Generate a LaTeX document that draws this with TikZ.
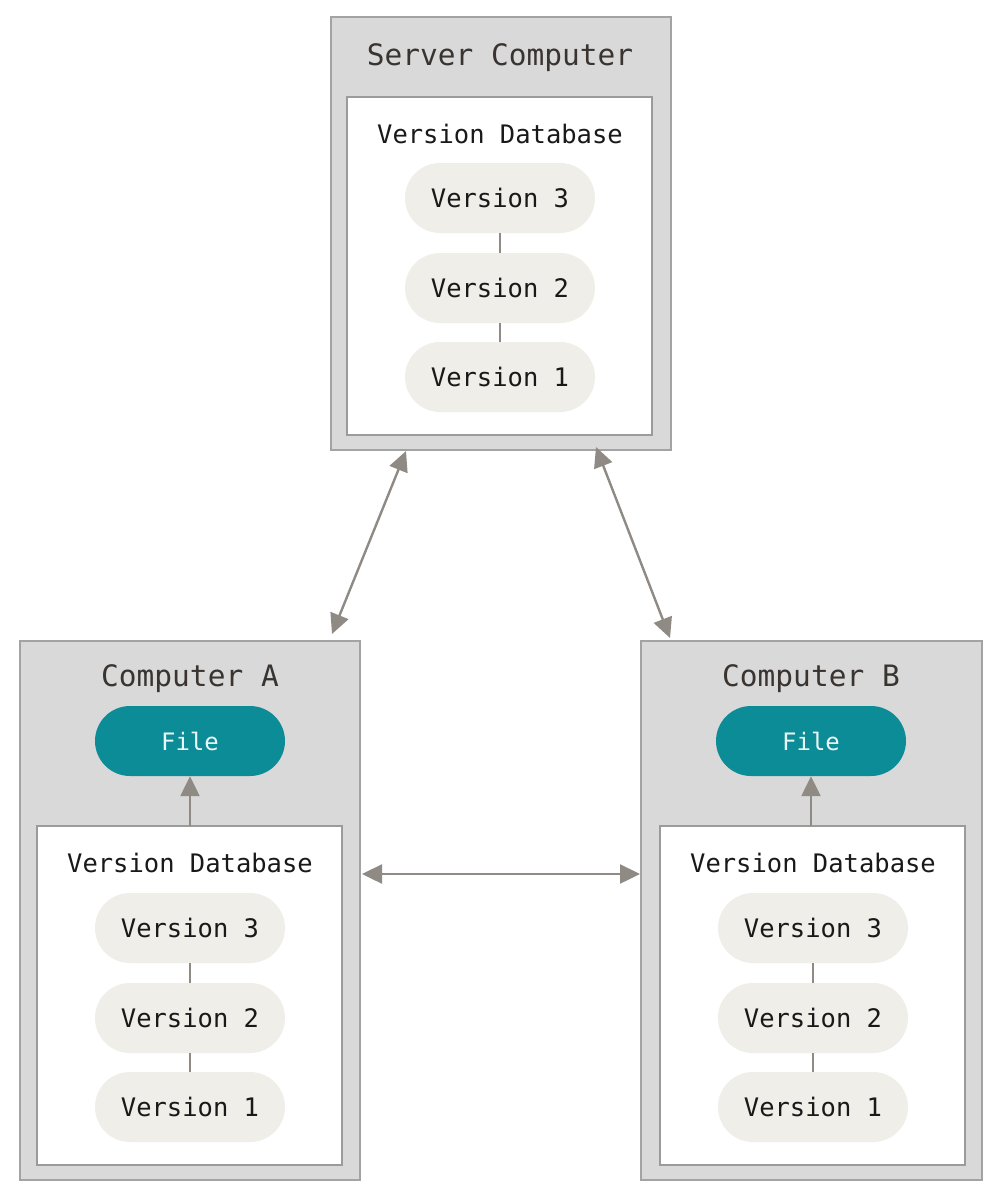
\documentclass[tikz,border=0pt]{standalone}
\usepackage{fontspec}
\setmonofont{DejaVu Sans Mono}
\usetikzlibrary{arrows.meta}
\definecolor{outerfill}{HTML}{D9D9D9}
\definecolor{outerdraw}{HTML}{A3A3A3}
\definecolor{innerdraw}{HTML}{9B9B9B}
\definecolor{pillfill}{HTML}{EFEEE9}
\definecolor{teal}{HTML}{0B8C96}
\definecolor{arrowc}{HTML}{8F8A84}
\definecolor{titlec}{HTML}{3A3431}
\tikzset{
  outerbox/.style={draw=outerdraw, fill=outerfill, line width=2pt},
  innerbox/.style={draw=innerdraw, fill=white, line width=2pt},
  pill/.style={fill=pillfill, minimum width=190pt, minimum height=70pt, rounded corners=35pt, font=\ttfamily\fontsize{25.5}{28}\selectfont, text=black!90, inner sep=0pt},
  filepill/.style={fill=teal, minimum width=190pt, minimum height=70pt, rounded corners=35pt, font=\ttfamily\fontsize{24}{26}\selectfont, text=white!92!teal, inner sep=0pt},
  titletext/.style={font=\ttfamily\fontsize{29.5}{32}\selectfont, text=titlec},
  dbtext/.style={font=\ttfamily\fontsize{25.5}{28}\selectfont, text=black!90},
  link/.style={draw=arrowc, line width=1.6pt},
  arr/.style={draw=arrowc, line width=2.4pt, {Triangle[length=20pt,width=19pt]}-{Triangle[length=20pt,width=19pt]}, fill=arrowc},
  uparr/.style={draw=arrowc, line width=2.4pt, -{Triangle[length=20pt,width=19pt]}, fill=arrowc}
}
\begin{document}
\begin{tikzpicture}[x=1pt,y=-1pt]
\useasboundingbox (0,0) rectangle (1002,1200);
% Server
\draw[outerbox] (331,17) rectangle (671,450);
\draw[innerbox] (347,97) rectangle (652,435);
\node[titletext] (stitle) at (500,58) {Server Computer};
\node[dbtext] (sdb) at (500,134) {Version Database};
\node[pill] (s3) at (500,198) {Version 3};
\node[pill] (s2) at (500,288) {Version 2};
\node[pill] (s1) at (500,377) {Version 1};
\draw[link] (s3) -- (s2);
\draw[link] (s2) -- (s1);
% Computer A
\draw[outerbox] (20,641) rectangle (360,1180);
\draw[innerbox] (37,826) rectangle (342,1165);
\node[titletext] (atitle) at (190,679) {Computer A};
\node[filepill] (afile) at (190,741) {File};
\node[dbtext] (adb) at (190,863) {Version Database};
\node[pill] (a3) at (190,928) {Version 3};
\node[pill] (a2) at (190,1018) {Version 2};
\node[pill] (a1) at (190,1107) {Version 1};
\draw[link] (a3) -- (a2);
\draw[link] (a2) -- (a1);
\coordinate (atop) at (190,826);
\draw[uparr] (atop) -- (afile.south);
% Computer B
\draw[outerbox] (641,641) rectangle (982,1180);
\draw[innerbox] (660,826) rectangle (965,1165);
\node[titletext] (btitle) at (811,679) {Computer B};
\node[filepill] (bfile) at (811,741) {File};
\node[dbtext] (bdb) at (813,863) {Version Database};
\node[pill] (b3) at (813,928) {Version 3};
\node[pill] (b2) at (813,1018) {Version 2};
\node[pill] (b1) at (813,1107) {Version 1};
\draw[link] (b3) -- (b2);
\draw[link] (b2) -- (b1);
\coordinate (btop) at (811,826);
\draw[uparr] (btop) -- (bfile.south);
% Connections
\coordinate (sa) at (406,451);
\coordinate (as) at (332,634);
\coordinate (sb) at (596,447);
\coordinate (bs) at (670,638);
\coordinate (ab) at (362,874);
\coordinate (ba) at (640,874);
\draw[arr] (sa) -- (as);
\draw[arr] (sb) -- (bs);
\draw[arr] (ab) -- (ba);
\end{tikzpicture}
\end{document}
